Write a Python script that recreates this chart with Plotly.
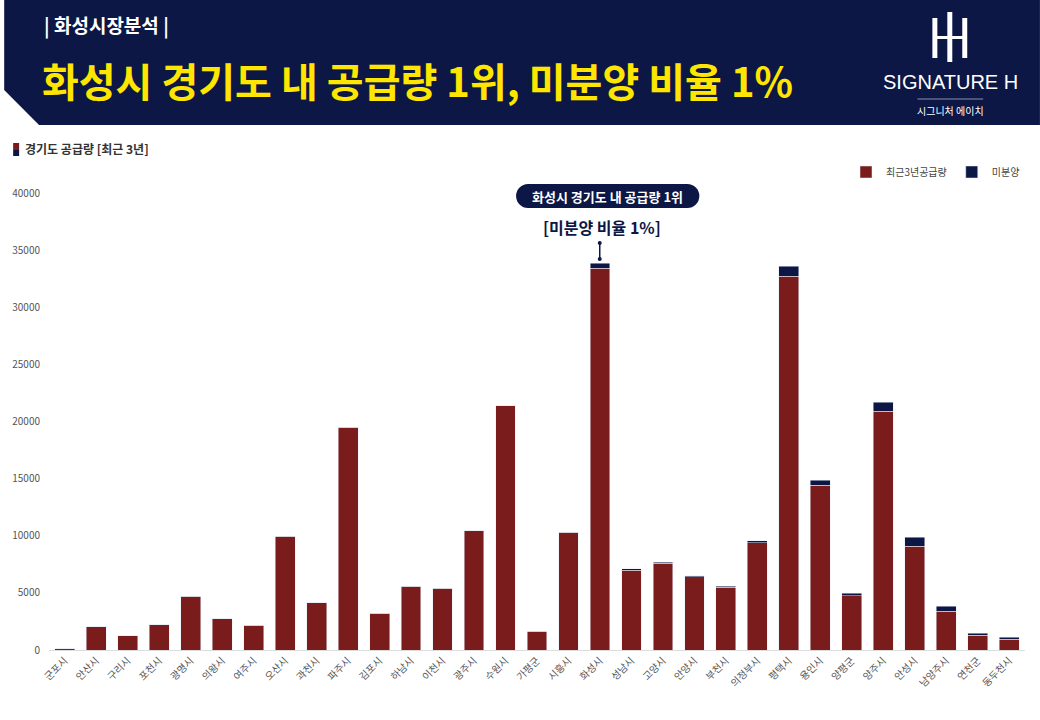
import plotly.graph_objects as go

cities = ["군포시","안산시","구리시","포천시","광명시","의왕시","여주시","오산시","과천시","파주시",
          "김포시","하남시","이천시","광주시","수원시","가평군","시흥시","화성시","성남시","고양시",
          "안양시","부천시","의정부시","평택시","용인시","양평군","양주시","안성시","남양주시","연천군","동두천시"]
supply = [100,2050,1250,2200,4700,2750,2150,9950,4150,19500,
          3200,5600,5400,10450,21400,1650,10300,33430,7000,7600,
          6400,5500,9400,32720,14440,4750,20900,9100,3400,1300,950]
unsold = [0,0,0,0,0,0,0,0,0,0,
          0,0,0,0,0,0,0,430,100,100,
          100,100,150,880,430,200,800,790,450,150,150]

RED = "#7a1c1c"; NAVY = "#0c1745"
L, R, T, B = 45, 15, 193, 70
W, H = 1040, 720
PW, PH = W - L - R, H - T - B
px = lambda x: (x - L) / PW
py = lambda y: (H - B - y) / PH

fig = go.Figure()
fig.add_bar(x=cities, y=supply, name="최근3년공급량", marker_color=RED)
fig.add_bar(x=cities, y=unsold, name="미분양", marker_color=NAVY)

shapes = [
    dict(type="path", xref="paper", yref="paper", layer="below",
         path=f"M {px(0)} {py(0)} L {px(1040)} {py(0)} L {px(1040)} {py(125)} L {px(35)} {py(125)} L {px(0)} {py(90)} Z",
         fillcolor=NAVY, line_width=0),
    dict(type="rect", xref="paper", yref="paper", x0=px(932), x1=px(937), y0=py(58), y1=py(18), fillcolor="white", line_width=0),
    dict(type="rect", xref="paper", yref="paper", x0=px(947), x1=px(952), y0=py(62), y1=py(12), fillcolor="white", line_width=0),
    dict(type="rect", xref="paper", yref="paper", x0=px(962), x1=px(967), y0=py(58), y1=py(18), fillcolor="white", line_width=0),
    dict(type="rect", xref="paper", yref="paper", x0=px(935), x1=px(965), y0=py(39), y1=py(36), fillcolor="white", line_width=0),
    dict(type="line", xref="paper", yref="paper", x0=px(917), x1=px(983), y0=py(99), y1=py(99), line=dict(color="#8a90a8", width=1)),
    dict(type="rect", xref="paper", yref="paper", x0=px(9), x1=px(15), y0=py(150), y1=py(143), fillcolor=RED, line_width=0),
    dict(type="rect", xref="paper", yref="paper", x0=px(9), x1=px(15), y0=py(156), y1=py(150), fillcolor=NAVY, line_width=0),
    dict(type="rect", xref="paper", yref="paper", x0=px(526), x1=px(686), y0=py(208), y1=py(184), fillcolor=NAVY, line_width=0),
    dict(type="circle", xref="paper", yref="paper", x0=px(514), x1=px(538), y0=py(208), y1=py(184), fillcolor=NAVY, line_width=0),
    dict(type="circle", xref="paper", yref="paper", x0=px(674), x1=px(698), y0=py(208), y1=py(184), fillcolor=NAVY, line_width=0),
    dict(type="line", xref="paper", yref="paper", x0=px(598), x1=px(598), y0=py(243), y1=py(259), line=dict(color=NAVY, width=1.5)),
    dict(type="circle", xref="paper", yref="paper", x0=px(596), x1=px(600), y0=py(245), y1=py(241), fillcolor=NAVY, line_width=0),
    dict(type="circle", xref="paper", yref="paper", x0=px(596), x1=px(600), y0=py(261), y1=py(257), fillcolor=NAVY, line_width=0),
]
F = "Noto Sans CJK KR"
ann = [
    dict(x=px(38), y=py(25), text="<b>| 화성시장분석 |</b>", font=dict(size=19, color="white", family=F), xanchor="left"),
    dict(x=px(36), y=py(80), text="<b>화성시 경기도 내 공급량 1위, 미분양 비율 1%</b>", font=dict(size=40, color="#ffe600", family=F), xanchor="left"),
    dict(x=px(950), y=py(82), text="SIGNATURE H", font=dict(size=20, color="white", family="Liberation Sans"), xanchor="center"),
    dict(x=px(950), y=py(110), text="시그니처 에이치", font=dict(size=10, color="white", family=F), xanchor="center"),
    dict(x=px(19), y=py(149), text="<b>경기도 공급량 [최근 3년]</b>", font=dict(size=12, color="#333", family=F), xanchor="left"),
    dict(x=px(606), y=py(196), text="<b>화성시 경기도 내 공급량 1위</b>", font=dict(size=13, color="white", family=F), xanchor="center"),
    dict(x=px(600), y=py(227), text="<b>[미분양 비율 1%]</b>", font=dict(size=16, color=NAVY, family=F), xanchor="center"),
]
for a in ann:
    a.update(xref="paper", yref="paper", showarrow=False, yanchor="middle")

fig.update_layout(
    width=W, height=H, margin=dict(l=L, r=R, t=T, b=B), barmode="stack", bargap=0.37,
    paper_bgcolor="white", plot_bgcolor="white", font=dict(family=F, color="#555", size=10),
    shapes=shapes, annotations=ann, showlegend=True,
    legend=dict(orientation="h", x=1, xanchor="right", y=py(172), yanchor="middle",
                font=dict(size=10, color="#444"), traceorder="normal", bgcolor="rgba(0,0,0,0)"),
    xaxis=dict(tickangle=-45, tickfont=dict(size=10, color="#555"), showline=True, linecolor="#ddd", ticks=""),
    yaxis=dict(range=[0, 40000], dtick=5000, tickformat="d", showgrid=False, zeroline=False,
               tickfont=dict(size=10, color="#555"), ticklabelstandoff=8),
)
fig.write_html("out.html", config={"displayModeBar": False},
               post_script="document.body.style.margin='0';document.body.style.overflow='hidden';")
